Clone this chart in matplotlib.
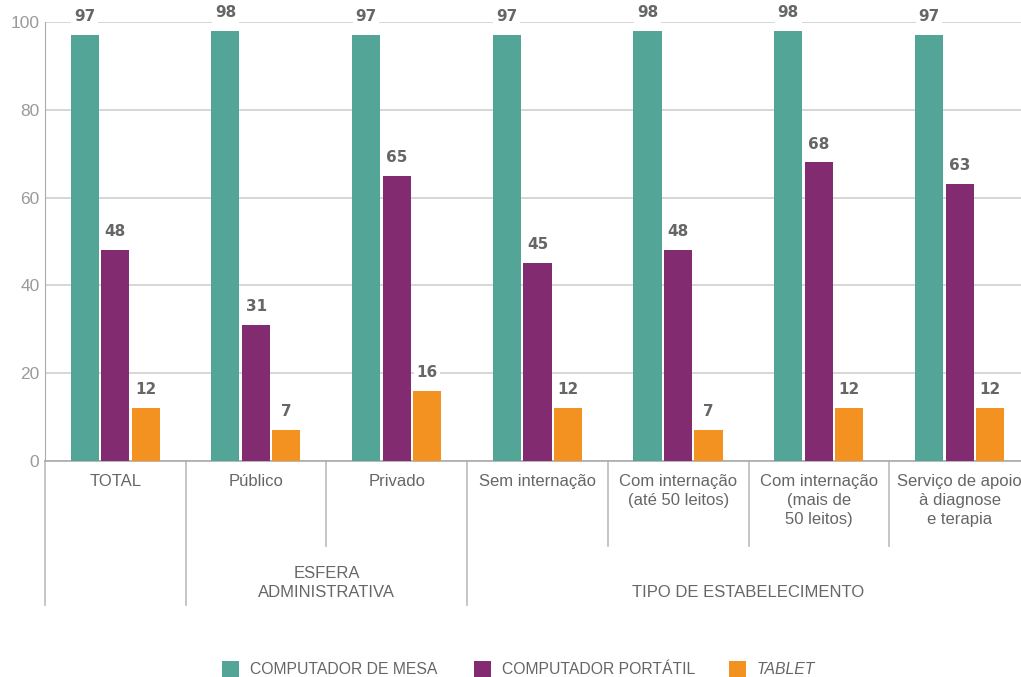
import numpy as np
import matplotlib.pyplot as plt
from matplotlib.patches import Rectangle
from matplotlib.lines import Line2D

plt.rcParams['font.family'] = ['Liberation Sans', 'DejaVu Sans']

categorias = ['TOTAL', 'Público', 'Privado', 'Sem internação',
              'Com internação\n(até 50 leitos)', 'Com internação\n(mais de\n50 leitos)',
              'Serviço de apoio\nà diagnose\ne terapia']
mesa = [97, 98, 97, 97, 98, 98, 97]
portatil = [48, 31, 65, 45, 48, 68, 63]
tablet = [12, 7, 16, 12, 7, 12, 12]
series_nomes = ['COMPUTADOR DE MESA', 'COMPUTADOR PORTÁTIL', 'TABLET']
grupos = ['ESFERA\nADMINISTRATIVA', 'TIPO DE ESTABELECIMENTO']
grupos_intervalo = [(1, 3), (3, 7)]

cores = ['#52A597', '#822B70', '#F39220']
cinza_texto = '#666666'

W, H = 1021, 677
fig = plt.figure(figsize=(W / 100, H / 100), dpi=100)
ax = fig.add_axes([45 / W, 216 / H, 985 / W, 439 / H])

n = len(categorias)
x = np.arange(n) + 0.5
offs = [-0.218, 0.0, 0.215]
largura = 0.2

for serie, cor, off in zip([mesa, portatil, tablet], cores, offs):
    ax.bar(x + off, serie, width=largura, color=cor, zorder=3)
    for xi, v in zip(x + off, serie):
        ax.text(xi, v + 2.5, f'{v}', ha='center', va='bottom', fontsize=11,
                family=['DejaVu Sans'], fontweight='bold', color='#666666',
                bbox=dict(facecolor='white', edgecolor='none', pad=2), zorder=4)

ax.set_xlim(0, n)
ax.set_ylim(0, 100)
ax.set_yticks([0, 20, 40, 60, 80, 100])
ax.tick_params(axis='y', length=0, labelsize=12.5, labelcolor='#9a9a9a', pad=4)
ax.tick_params(axis='x', length=0, labelbottom=False)
ax.yaxis.grid(True, color='#d0d0d0', linewidth=1.2, zorder=0)
ax.set_axisbelow(True)
for lado in ['top', 'right']:
    ax.spines[lado].set_visible(False)
ax.spines['left'].set_color('#aaaaaa')
ax.spines['bottom'].set_color('#aaaaaa')
ax.spines['bottom'].set_linewidth(1.2)

# rótulos das categorias e divisórias abaixo do eixo
trans = ax.get_xaxis_transform()
for xi, cat in zip(x, categorias):
    ax.text(xi, -(474 - 461) / 439, cat, transform=trans, ha='center', va='top',
            fontsize=12, color=cinza_texto, linespacing=1.35)

y_curta = -(546 - 461) / 439
y_longa = -(605 - 461) / 439
for b in range(0, n):
    y_fim = y_longa if b in (0, 1, 3) else y_curta
    ax.add_line(Line2D([b, b], [0, y_fim], transform=trans, color='#bbbbbb',
                       linewidth=1.2, clip_on=False))

# rótulos dos grupos, alinhados pela última linha
for nome, (a, b) in zip(grupos, grupos_intervalo):
    ax.text((a + b) / 2, -(597 - 461) / 439, nome, transform=trans, ha='center',
            va='baseline', fontsize=12, color=cinza_texto, linespacing=1.35)

# legenda
leg_x = [222, 474, 729]
for px, cor, nome in zip(leg_x, cores, series_nomes):
    fig.patches.append(Rectangle((px / W, -2 / H), 17 / W, 18 / H,
                                 transform=fig.transFigure, facecolor=cor,
                                 edgecolor='none'))
    fig.text((px + 28) / W, 7 / H, nome, ha='left', va='center', fontsize=11.3,
             color=cinza_texto, style='italic' if nome == 'TABLET' else 'normal')

fig.savefig('out.png', dpi=100)
